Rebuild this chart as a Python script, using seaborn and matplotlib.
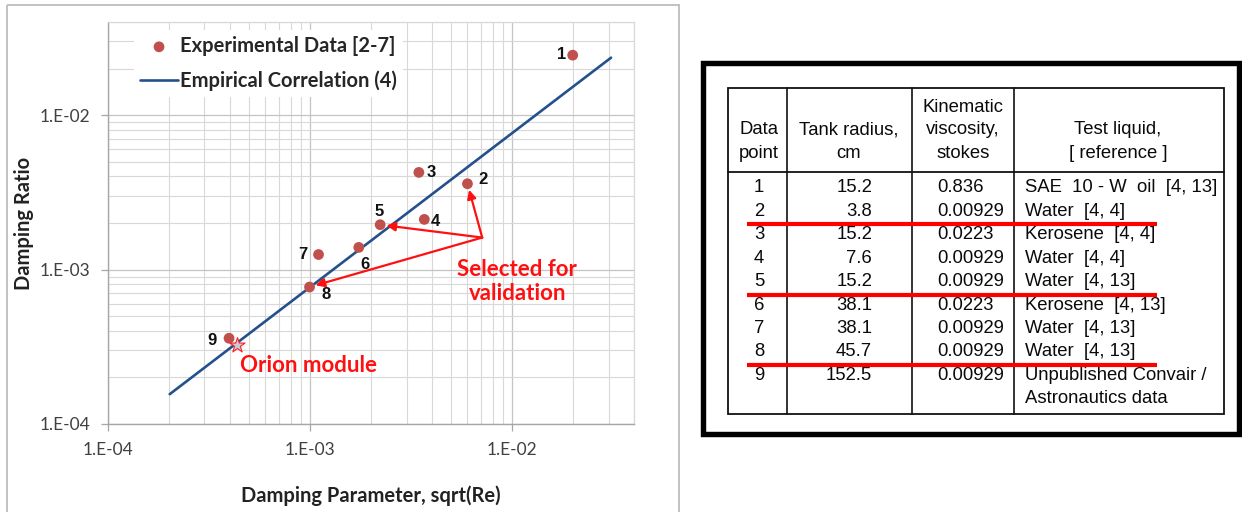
import matplotlib
matplotlib.use("Agg")

import numpy as np
import pandas as pd
import matplotlib.pyplot as plt
import seaborn as sns
from matplotlib.patches import Rectangle
from matplotlib.ticker import FixedLocator, LogLocator, NullFormatter


# ---- chart data ----
point_ids = ["1", "2", "3", "4", "5", "6", "7", "8", "9"]
damping_param = [0.0199, 0.00600, 0.00345, 0.00367, 0.00222, 0.00174, 0.00110, 0.000993, 0.000397]
damping_ratio = [0.0244, 0.00359, 0.00425, 0.00211, 0.00195, 0.00139, 0.00125, 0.000770, 0.000359]

corr_param = [2.02e-4, 3.08e-2]
corr_ratio = [1.56e-4, 2.35e-2]

orion_param = [0.000435]
orion_ratio = [0.000324]

selected_ids = ["2", "5", "8"]
arrow_origin = (0.00710, 0.00161)

axis_ticks = [1e-4, 1e-3, 1e-2]
tick_labels = ["1.E-04", "1.E-03", "1.E-02"]

# ---- table data ----
col_headers = [["Data", "point"],
               ["Tank radius,", "cm"],
               ["Kinematic", "viscosity,", "stokes"],
               ["Test liquid,", "[ reference ]"]]
tank_radius = ["15.2", "3.8", "15.2", "7.6", "15.2", "38.1", "38.1", "45.7", "152.5"]
viscosity = ["0.836", "0.00929", "0.0223", "0.00929", "0.00929",
             "0.0223", "0.00929", "0.00929", "0.00929"]
test_liquid = ["SAE  10 - W  oil  [4, 13]", "Water  [4, 4]", "Kerosene  [4, 4]",
               "Water  [4, 4]", "Water  [4, 13]", "Kerosene  [4, 13]",
               "Water  [4, 13]", "Water  [4, 13]",
               "Unpublished Convair /\nAstronautics data"]
struck_rows = [2, 5, 8]   # red line drawn under these data points


sns.set_theme(style="whitegrid")
plt.rcParams["font.family"] = ["Lato", "DejaVu Sans"]

W, H = 1242, 512
fig = plt.figure(figsize=(W / 100, H / 100), dpi=100)
fig.patch.set_facecolor("white")

# overlay in pixel coordinates for frames and the table
ov = fig.add_axes([0, 0, 1, 1], zorder=-1)
ov.set_xlim(0, W)
ov.set_ylim(H, 0)
ov.axis("off")

ax = fig.add_axes([108 / W, 1 - 424 / H, 526 / W, 402 / H])
ax.set_facecolor("white")

df = pd.DataFrame({"param": damping_param, "ratio": damping_ratio, "id": point_ids})
corr = pd.DataFrame({"param": corr_param, "ratio": corr_ratio})

red_pt = "#C0504D"
blue_ln = "#24508C"

sns.scatterplot(data=df, x="param", y="ratio", ax=ax, color=red_pt, s=60,
                edgecolor="none", label="Experimental Data [2-7]", zorder=4)
sns.lineplot(data=corr, x="param", y="ratio", ax=ax, color=blue_ln, lw=1.9,
             label="Empirical Correlation (4)", zorder=3)

ax.set_xscale("log")
ax.set_yscale("log")
ax.set_xlim(1e-4, 4e-2)
ax.set_ylim(1e-4, 4e-2)

for axis in (ax.xaxis, ax.yaxis):
    axis.set_major_locator(FixedLocator(axis_ticks))
    axis.set_minor_locator(LogLocator(base=10, subs=np.arange(2, 10)))
    axis.set_minor_formatter(NullFormatter())
ax.set_xticklabels(tick_labels)
ax.set_yticklabels(tick_labels)

ax.grid(which="major", color="#C4C4C4", lw=0.9)
ax.grid(which="minor", color="#D8D8D8", lw=0.8)
ax.tick_params(which="major", direction="out", length=5, width=0.9, color="#A6A6A6",
               labelsize=12.5, labelcolor="#404040", pad=8, bottom=True, left=True)
ax.tick_params(which="minor", length=0)
for side in ["left", "bottom"]:
    ax.spines[side].set_color("#A6A6A6")
    ax.spines[side].set_linewidth(1.0)
for side in ["top", "right"]:
    ax.spines[side].set_color("#D8D8D8")
    ax.spines[side].set_linewidth(0.9)

ax.set_xlabel("Damping Parameter, sqrt(Re)", fontsize=14.5, fontweight="bold",
              color="#222222", labelpad=20)
ax.set_ylabel("Damping Ratio", fontsize=14.5, fontweight="bold", color="#222222",
              labelpad=4)

leg = ax.legend(loc="upper left", bbox_to_anchor=(0.03, 1.005), frameon=True,
                facecolor="white", edgecolor="none", framealpha=1, fancybox=False,
                prop={"family": "Lato", "weight": "bold", "size": 14.5},
                handlelength=1.9, handletextpad=0.1, borderpad=0.3,
                labelspacing=0.72, markerscale=1.0)
leg.set_zorder(2)
for t in leg.get_texts():
    t.set_color("#262626")

# point numbers
label_offsets = {"1": (-11, 1), "2": (16, 4), "3": (12, 0), "4": (11, -2),
                 "5": (-1, 13), "6": (6, -17), "7": (-16, 0), "8": (17, -7),
                 "9": (-17, -2)}
for pid, xv, yv in zip(point_ids, damping_param, damping_ratio):
    dx, dy = label_offsets[pid]
    ax.annotate(pid, (xv, yv), xytext=(dx * 0.72, dy * 0.72), textcoords="offset points",
                ha="center", va="center", fontsize=12, fontweight="bold",
                family=["Liberation Sans", "DejaVu Sans"], color="#111111", zorder=6)

# arrows to the selected points
for pid in selected_ids:
    row = df[df["id"] == pid].iloc[0]
    ax.annotate("", xy=(row["param"], row["ratio"]), xytext=arrow_origin,
                arrowprops=dict(arrowstyle="-|>", color="#FF1010", lw=1.6,
                                shrinkA=0, shrinkB=4.5, mutation_scale=13),
                zorder=5)

ax.text(0.0106, 0.000837, "Selected for\nvalidation", ha="center", va="center",
        color="#FF1010", fontsize=16, fontweight="bold", linespacing=1.15, zorder=6)

ax.scatter(orion_param, orion_ratio, marker="*", s=130, facecolor="#C8CCD8",
           edgecolor="#FF2020", linewidth=0.8, zorder=5)
ax.text(0.000449, 0.000240, "Orion module", ha="left", va="center",
        color="#FF1010", fontsize=16, fontweight="bold", zorder=6)

# grey frame around the chart picture
ov.add_patch(Rectangle((7, 5), 672, 540, fill=False, edgecolor="#BDBDBD", lw=1.3))

# ---- table picture ----
ov.add_patch(Rectangle((702.5, 62.5), 536, 371.5, fill=False, edgecolor="black", lw=3.9))

t_left, t_right, t_top, t_bot, t_head = 728, 1224, 88, 414, 172
col_seps = [787, 912, 1014]
ov.add_patch(Rectangle((t_left, t_top), t_right - t_left, t_bot - t_top,
                       fill=False, edgecolor="#111111", lw=1.3))
ov.plot([t_left, t_right], [t_head, t_head], color="#111111", lw=1.3)
for xs in col_seps:
    ov.plot([xs, xs], [t_top, t_bot], color="#111111", lw=1.2)

tfont = dict(family=["Liberation Sans", "DejaVu Sans"], fontsize=13.3, color="#0A0A0A")
head_centers = [759, 849, 963, 1118]
for cx, lines in zip(head_centers, col_headers):
    n = len(lines)
    for k, line in enumerate(lines):
        ov.text(cx, 153 - 23 * (n - 1 - k), line, ha="center", va="center", **tfont)

row_step = 23.4
for i, pid in enumerate(point_ids):
    ry = 188 + row_step * i
    ov.text(759, ry, pid, ha="center", va="center", **tfont)
    ov.text(872, ry, tank_radius[i], ha="right", va="center", **tfont)
    ov.text(937, ry, viscosity[i], ha="left", va="center", **tfont)
    for k, line in enumerate(test_liquid[i].split("\n")):
        ov.text(1025, ry + row_step * k, line, ha="left", va="center", **tfont)

for r in struck_rows:
    ry = 188 + row_step * (r - 1) + 13
    ov.plot([747, 1157], [ry, ry], color="#FF0000", lw=3.0, solid_capstyle="butt", zorder=5)

fig.savefig("out.png", dpi=100, facecolor="white")
